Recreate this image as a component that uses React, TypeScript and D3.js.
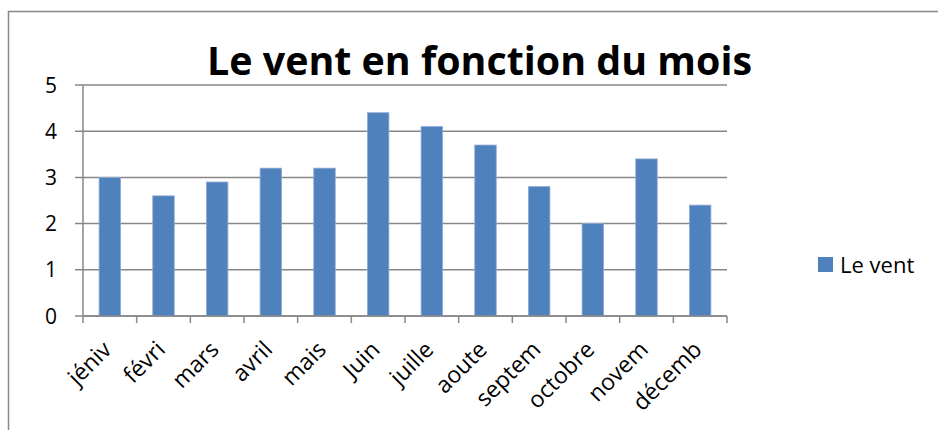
import React from "react";
import * as d3 from "d3";

const months = ["jéniv", "févri", "mars", "avril", "mais", "Juin", "juille", "aoute", "septem", "octobre", "novem", "décemb"];
const windValues = [3, 2.6, 2.9, 3.2, 3.2, 4.4, 4.1, 3.7, 2.8, 2.0, 3.4, 2.4];
const yTicks = [0, 1, 2, 3, 4, 5];
const seriesName = "Le vent";
const titleText = "Le vent en fonction du mois";

const W = 938;
const H = 430;
const plot = { left: 83, right: 727, top: 85, bottom: 316 };
const axisColor = "#878787";
const barColor = "#4F81BD";
const font = "'Open Sans', 'DejaVu Sans', sans-serif";

export default function App() {
  const x = d3
    .scaleBand<string>()
    .domain(months)
    .range([plot.left, plot.right])
    .paddingInner(0.6)
    .paddingOuter(0.3);
  const y = d3.scaleLinear().domain([0, 5]).range([plot.bottom, plot.top]);
  const step = x.step();
  const boundaries = d3.range(months.length + 1).map((i) => plot.left + i * step);

  return (
    <svg
      width={W}
      height={H}
      style={{ position: "absolute", left: 0, top: 0, background: "#fff" }}
      fontFamily={font}
    >
      <rect x={0} y={0} width={W} height={H} fill="#fff" />
      <rect x={8.5} y={11.5} width={W + 20} height={H + 20} fill="none" stroke={axisColor} strokeWidth={1.5} />

      <text
        x={479.5}
        y={75}
        textAnchor="middle"
        fontSize={39}
        fontWeight={700}
        textLength={545}
        lengthAdjust="spacingAndGlyphs"
        fill="#000"
      >
        {titleText}
      </text>

      {/* gridlines + y ticks */}
      {yTicks.map((t) => (
        <g key={t}>
          <line x1={plot.left - 8} x2={plot.right} y1={y(t)} y2={y(t)} stroke={axisColor} strokeWidth={1.5} />
          <text x={57} y={y(t)} dy="0.36em" textAnchor="end" fontSize={21} fill="#000">
            {t}
          </text>
        </g>
      ))}

      {/* y axis line */}
      <line x1={plot.left} x2={plot.left} y1={plot.top} y2={plot.bottom} stroke={axisColor} strokeWidth={1.5} />

      {/* bars */}
      {months.map((m, i) => (
        <rect
          key={m}
          x={x(m)}
          y={y(windValues[i])}
          width={x.bandwidth()}
          height={y(0) - y(windValues[i])}
          fill={barColor}
          stroke="#8eaad3"
          strokeWidth={0.8}
        />
      ))}

      {/* x axis line and ticks */}
      <line x1={plot.left} x2={plot.right} y1={plot.bottom} y2={plot.bottom} stroke={axisColor} strokeWidth={1.5} />
      {boundaries.map((bx, i) => (
        <line key={i} x1={bx} x2={bx} y1={plot.bottom} y2={plot.bottom + 7} stroke={axisColor} strokeWidth={1.5} />
      ))}

      {/* x labels */}
      {months.map((m) => {
        const cx = (x(m) as number) + x.bandwidth() / 2;
        return (
          <text
            key={m}
            transform={`translate(${cx + 3},351) rotate(-45)`}
            textAnchor="end"
            fontSize={23}
            fill="#000"
          >
            {m}
          </text>
        );
      })}

      {/* legend */}
      <rect x={818} y={257} width={15} height={15} fill={barColor} />
      <text x={840} y={273} fontSize={22} fill="#000">
        {seriesName}
      </text>
    </svg>
  );
}
